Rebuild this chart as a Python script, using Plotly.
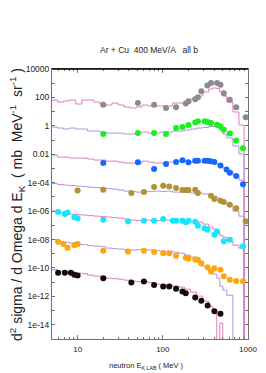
import plotly.graph_objects as go

# ---------------- data ----------------
scale = [1, 1e-2, 1e-4, 1e-6, 1e-8, 1e-10, 1e-12]
point_colors = ["#8c8c8c", "#19f019", "#1468ff", "#b39234", "#14e6ff", "#ffa50a", "#140a0a"]
line_colors = ["#e07cc0", "#b492dc", "#e07cc0", "#b492dc", "#e07cc0", "#b492dc", "#e07cc0"]

# model histogram bin edges (MeV)
edges = [4.9, 5.8, 6.8, 8.0, 9.5, 11.2, 13.1, 15.5, 18.2, 21.5, 25.3, 29.7, 35.0, 41.3,
         48.6, 57.2, 67.4, 79.3, 93.4, 110, 130, 153, 180, 212, 249, 294, 346, 385,
         430, 466, 506, 564, 665, 783, 900]

model_0 = [65.6, 47.4, 55.7, 65.6, 34.3, 65.6, 65.6, 47.4, 34.3, 29.2, 40.3, 29.2, 21.1, 17.9,
           21.1, 29.2, 24.8, 24.8, 24.8, 24.8, 40.3, 40.3, 47.4, 77.1, 125.6, 240, 391, 459,
           424, 240, 125.6, 47.4, 9.4, 1.14]
model_1 = [82, 70, 60, 70, 60, 60, 43, 43, 36.5, 31, 31, 31, 26.5, 26.5, 31, 36.5, 31, 31,
           36.5, 36.5, 43, 43, 50.5, 60, 70, 76, 89, 89, 76, 50.5, 26.5, 13.8, 3.8, 1.04]
model_2 = [88, 63, 63, 53.5, 53.5, 53.5, 46, 39, 39, 33, 33, 28, 24, 24, 24, 33, 28, 24, 24,
           28, 28, 33, 33, 28, 28, 28, 24, 24, 20.5, 14.8, 10.7, 6.6, 3.4, 1.52]
model_3 = [87, 73.5, 67.5, 62.5, 57.5, 53, 49, 45, 41.5, 38.5, 35.5, 30.2, 25.6, 23.7, 21.8,
           25.6, 23.7, 25.6, 23.7, 25.6, 21.8, 21.8, 20.1, 18.5, 18.5, 15.7, 13.4, 11.4, 8.3,
           6.0, 4.3, 2.6, 1.0, 0.44]
model_4 = [100, 78.5, 72.5, 61.5, 56.5, 52, 48, 44.5, 41, 38, 35, 32, 27.4, 23.3, 21.5, 23.3,
           23.3, 21.5, 23.3, 23.3, 25.2, 25.2, 21.5, 19.8, 16.8, 12.2, 7.5, 5.4, 3.3, 2.0,
           1.47, 0.77, 0.40, 0.25]
model_5 = [98, 71, 65.6, 55.7, 47.4, 43.7, 37.2, 34.3, 31.6, 24.8, 22.9, 21.1, 19.4, 17.9,
           19.4, 19.4, 17.9, 16.5, 15.2, 15.2, 13.0, 11.0, 8.0, 5.8, 3.0, 1.34, 0.60, 0.37,
           0.19, 0.052, 0.027, 0.012, 0, 0]
model_6 = [76, 60, 54.5, 50.5, 43, 39.5, 31, 26.5, 24.4, 19.1, 17.6, 16.2, 13.8, 11.8, 10.8,
           10.8, 9.2, 7.3, 6.7, 6.1, 5.2, 4.5, 3.2, 1.98, 1.04, 0.46, 0.20, 0.09, 0, 0.013,
           0, 0, 0, 0]

# measured points (energy MeV, cross section mb/MeV/sr, before scaling)
exp_E_0 = [20, 51, 79, 109, 143, 186, 200, 240, 258, 283, 333, 368, 433, 475, 520, 612, 727, 939]
exp_V_0 = [30.8, 40.3, 30.8, 17.9, 20.1, 37.2, 53, 73.5, 101, 269, 689, 1033, 1033, 784, 194,
           69, 20.1, 4.0]
exp_E_1 = [20, 51, 79, 109, 143, 170, 200, 240, 258, 310, 336, 368, 433, 475, 520, 612, 727, 873]
exp_V_1 = [26.5, 31, 31, 26.5, 70, 82, 114, 171, 207, 207, 185, 157, 119, 89, 53, 28.6, 9.2, 2.7]
exp_E_2 = [20, 51, 79, 109, 143, 170, 200, 240, 258, 310, 336, 368, 403, 475, 560, 612, 727, 873]
exp_V_2 = [24.2, 26.9, 9.1, 20.4, 28, 37.2, 26.9, 35, 35, 35, 35, 31.6, 28, 16.2, 8.5, 5.1,
           2.9, 0.78]
exp_E_3 = [10, 20, 42.7, 60, 79, 101, 119, 143, 170, 186, 200, 240, 258, 368, 403, 475, 520,
           612, 727, 939]
exp_V_3 = [27.7, 31.6, 18.5, 21.8, 50.5, 60, 53, 41.5, 30.2, 30.2, 30.2, 31.6, 18.5, 11.9, 7.0,
           5.3, 4.3, 2.8, 1.6, 0.19]
exp_E_4 = [5.9, 7.07, 7.61, 9.14, 10, 20, 39, 60, 79, 101, 131, 143, 170, 186, 200, 240, 258,
           310, 336, 403, 433, 520, 612, 873]
exp_V_4 = [85.5, 61.5, 78.5, 36.3, 30.8, 24.4, 18.8, 20.7, 20.7, 27.4, 20.7, 20.7, 20.7, 16.2,
           20.7, 17.6, 9.2, 6.3, 4.8, 2.15, 3.7, 0.77, 0.96, 0.33]
exp_E_5 = [5.9, 6.8, 7.61, 9.14, 10, 20, 39, 60, 79, 101, 119, 143, 186, 200, 240, 258, 283,
           336, 368, 403, 475, 520, 612, 727, 873]
exp_V_5 = [69, 49, 26, 39, 49, 16, 14.1, 16, 13, 11, 11, 7.1, 5.3, 4.4, 4.0, 3.7, 2.05, 1.14,
           0.56, 0.97, 0.74, 0.265, 0.15, 0.12, 0.117]
exp_E_6 = [5.9, 7.07, 8.33, 9.14, 10, 20, 42.7, 60, 79, 101, 119, 143, 170, 186, 240, 283, 336,
           403, 475]
exp_V_6 = [45.5, 45.5, 45.5, 32.6, 29.7, 19.1, 9.6, 11.2, 6.4, 5.0, 5.0, 3.4, 2.23, 1.66, 0.84,
           0.50, 0.23, 0.088, 0.061]

y_tickvals = [1e4, 1e2, 1, 1e-2, 1e-4, 1e-6, 1e-8, 1e-10, 1e-12, 1e-14]
y_ticktext = ["10000", "100", "1", "0.01", "1e-04", "1e-06", "1e-08", "1e-10", "1e-12", "1e-14"]
y_minor = [1e3, 1e1, 1e-1, 1e-3, 1e-5, 1e-7, 1e-9, 1e-11, 1e-13]
x_tickvals = [10, 100, 1000]
x_ticktext = ["10", "100", "1000"]
x_minor = [6, 7, 8, 9, 20, 30, 40, 50, 60, 70, 80, 90, 200, 300, 400, 500, 600, 700, 800, 900]

title_text = "Ar + Cu  400 MeV/A   all b"
x_title = "neutron E<sub>K,LAB</sub> ( MeV )"
y_title = "d<sup>2</sup> sigma / d Omega d E<sub>K</sub>  ( mb  MeV<sup>-1</sup>  sr<sup>-1</sup> )"

models = [model_0, model_1, model_2, model_3, model_4, model_5, model_6]
exp_E = [exp_E_0, exp_E_1, exp_E_2, exp_E_3, exp_E_4, exp_E_5, exp_E_6]
exp_V = [exp_V_0, exp_V_1, exp_V_2, exp_V_3, exp_V_4, exp_V_5, exp_V_6]

FLOOR = 1e-40  # stands for zero on the log axis

FONT = "Liberation Sans, Arial, sans-serif"
W, H = 266, 373
ML, MR, MT, MB = 44, 26, 61, 42
PW, PH = W - ML - MR, H - MT - MB

fig = go.Figure()
for k in range(7):
    ys = [v * scale[k] if v > 0 else FLOOR for v in models[k]] + [FLOOR]
    fig.add_trace(go.Scatter(x=edges, y=ys, mode="lines", line_shape="hv",
                             line=dict(color=line_colors[k], width=1), hoverinfo="skip",
                             showlegend=False))
for k in range(7):
    fig.add_trace(go.Scatter(x=exp_E[k], y=[v * scale[k] for v in exp_V[k]], mode="markers",
                             marker=dict(color=point_colors[k], size=6, line=dict(width=0)),
                             showlegend=False))

fig.update_layout(
    width=W, height=H,
    margin=dict(l=ML, r=MR, t=MT, b=MB, autoexpand=False),
    paper_bgcolor="white", plot_bgcolor="white",
    title=dict(text=title_text, x=141 / W, xanchor="center",
               y=1 - 42 / H, yanchor="middle",
               font=dict(family=FONT, size=8.5, color="#222")),
    xaxis=dict(type="log", range=[0.699, 3.0], showgrid=False, zeroline=False,
               automargin=False,
               showline=True, linecolor="#707070", linewidth=1, mirror="ticks",
               ticks="inside", ticklen=4, tickcolor="#707070",
               tickvals=x_tickvals, ticktext=x_ticktext, ticklabelstandoff=2,
               minor=dict(tickvals=x_minor, ticks="inside", ticklen=2, tickcolor="#707070",
                          showgrid=False),
               tickfont=dict(family=FONT, size=8, color="#222")),
    yaxis=dict(type="log", range=[-15, 4], showgrid=False, zeroline=False,
               automargin=False,
               showline=True, linecolor="#707070", linewidth=1, mirror="ticks",
               ticks="inside", ticklen=3, tickcolor="#707070",
               tickvals=y_tickvals, ticktext=y_ticktext,
               minor=dict(tickvals=y_minor, ticks="inside", ticklen=3, tickcolor="#707070",
                          showgrid=False),
               tickfont=dict(family=FONT, size=8.5, color="#222")),
    annotations=[
        dict(text=y_title, xref="paper", yref="paper", x=(9 - ML) / PW,
             y=1 - (197 - MT) / PH,
             xanchor="center", yanchor="middle", textangle=-90, showarrow=False,
             font=dict(family=FONT, size=14, color="#222")),
        dict(text=x_title, xref="paper", yref="paper", x=(138 - ML) / PW,
             y=-(358 - (MT + PH)) / PH,
             xanchor="center", yanchor="middle", showarrow=False,
             font=dict(family=FONT, size=7.5, color="#222")),
    ],
    shapes=[dict(type="line", xref="paper", yref="paper", x0=0, x1=1, y0=1, y1=1,
                 line=dict(color="black", width=1.5))],
)

fig.write_html("out.html")
